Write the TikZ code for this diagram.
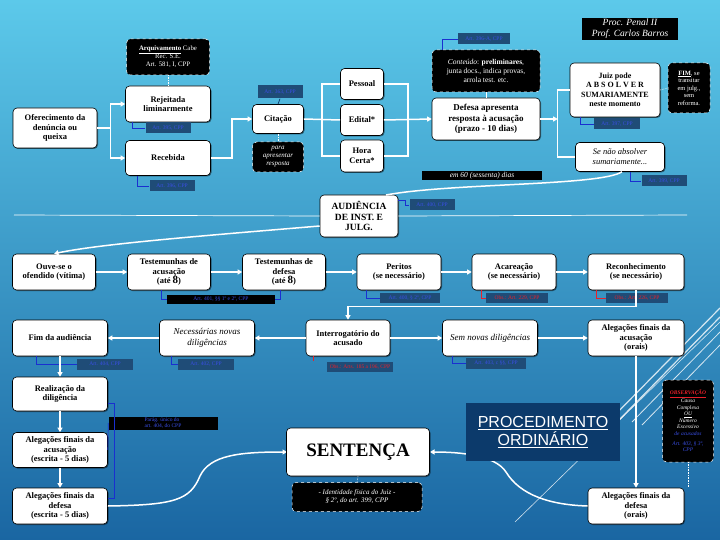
\documentclass[tikz,border=0pt]{standalone}
\usepackage{fontspec}
\setmainfont{Liberation Serif}
\setsansfont{Liberation Sans}
\usetikzlibrary{arrows.meta,shadows}
\definecolor{bgtop}{HTML}{5CC9EA}
\definecolor{bgmid}{HTML}{3399CC}
\definecolor{bgbot}{HTML}{1A66A2}
\definecolor{labbg}{HTML}{1F4C77}
\definecolor{labtx}{HTML}{3A4FE6}
\definecolor{redtx}{HTML}{E8202A}
\definecolor{navy}{HTML}{0C3A6B}
\definecolor{bluel}{HTML}{1A2FD0}
\begin{document}
\begin{tikzpicture}[x=1pt,y=-1pt,
 box/.style={draw=black, fill=white, rounded corners=4pt, line width=0.6pt, align=center, inner sep=1pt,
   font=\bfseries\fontsize{8.5}{9.5}\selectfont,
   drop shadow={shadow xshift=1pt,shadow yshift=-1pt,opacity=0.45,fill=black}},
 ibox/.style={box, font=\itshape\fontsize{9}{10.5}\selectfont},
 blk/.style={fill=black, draw=white, dashed, line width=0.5pt, rounded corners=4pt, text=white, align=center, inner sep=1pt, font=\fontsize{6.5}{7.5}\selectfont},
 lab/.style={fill=labbg, text=labtx, inner sep=1pt, font=\fontsize{5.5}{6}\selectfont, minimum height=11},
 rlab/.style={lab, text=redtx},
 wa/.style={draw=white, line width=1.5pt, -{Triangle[length=4.5pt,width=5pt]}},
 wl/.style={draw=white, line width=1.5pt},
 bl/.style={draw=bluel, line width=0.7pt},
 rl/.style={draw=redtx, line width=0.7pt},
 dl/.style={draw=white, densely dotted, line width=0.6pt},
]
\useasboundingbox (0,0) rectangle (720,540);
\shade[top color=bgtop, middle color=bgmid, bottom color=bgbot] (0,0) rectangle (720,540);

% decorative lines
\begin{scope}[white, opacity=0.8]
\draw[line width=0.6pt] (515,522) -- (720,322);
\draw[line width=1.2pt] (612,418) -- (720,308);
\draw[line width=1.2pt] (619,420) -- (720,317);
\draw[line width=0.8pt] (632,422) -- (720,332);
\draw[line width=0.8pt] (642,425) -- (720,345);
\end{scope}

% title
\node[fill=black, text=white, align=center, minimum width=96, minimum height=22, inner sep=1pt, font=\itshape\fontsize{9.5}{11}\selectfont] (title) at (630,29) {Proc. Penal II\\Prof. Carlos Barros};

% top row
\node[box, minimum width=84, minimum height=40] (ofer) at (55,128) {Oferecimento da\\denúncia ou\\queixa};
\node[box, minimum width=85, minimum height=36] (rej) at (168,104) {Rejeitada\\liminarmente};
\node[box, minimum width=85, minimum height=35] (rec) at (168,158) {Recebida};
\node[blk, minimum width=83, minimum height=36, inner sep=3pt, font=\fontsize{6.8}{8}\selectfont] (arq) at (168,57) {\textbf{\underline{Arquivamento}} Cabe\\Rec. S.E.\\Art. 581, I, CPP};
\node[box, minimum width=51, minimum height=29] (cit) at (278,119) {Citação};
\node[blk, minimum width=51, minimum height=30, font=\itshape\fontsize{7}{8}\selectfont] (para) at (278,157) {para\\apresentar\\resposta};
\node[box, minimum width=43, minimum height=31] (pes) at (362,84) {Pessoal};
\node[box, minimum width=43, minimum height=31] (edi) at (362,120) {Edital*};
\node[box, minimum width=43, minimum height=32] (hora) at (362,156) {Hora\\Certa*};
\node[box, minimum width=108, minimum height=42, font=\bfseries\fontsize{9}{10.5}\selectfont] (def) at (486,119) {Defesa apresenta\\resposta à acusação\\(prazo - 10 dias)};
\node[blk, minimum width=108, minimum height=42, font=\fontsize{7.5}{9}\selectfont] (cont) at (486,71) {\textit{Conteúdo}: \textbf{preliminares},\\junta docs., indica provas,\\arrola test. etc.};
\node[box, minimum width=90, minimum height=54, font=\bfseries\fontsize{8}{9.5}\selectfont] (juiz) at (615,90) {Juiz pode\\A B S O L V E R\\SUMARIAMENTE\\neste momento};
\node[blk, minimum width=42, minimum height=50, font=\fontsize{6.5}{7.5}\selectfont] (fim0) at (689,88) {\textbf{\underline{FIM}}, se\\transitar\\em julg.,\\sem\\reforma.};
\node[ibox, minimum width=89, minimum height=29, font=\itshape\fontsize{8.5}{10}\selectfont] (senao) at (620,157) {Se não absolver\\sumariamente...};
\node[fill=black, text=white, minimum width=120, minimum height=9, inner sep=0pt, font=\itshape\fontsize{7.5}{8}\selectfont] (em) at (482,176) {em 60 (sessenta) dias};
\node[box, minimum width=78, minimum height=42, font=\bfseries\fontsize{9.5}{10.5}\selectfont] (aud) at (359,216) {AUDIÊNCIA\\DE INST. E\\JULG.};

% row 2
\node[box, minimum width=83, minimum height=36] (ouve) at (54,272) {Ouve-se o\\ofendido (vítima)};
\node[box, minimum width=83, minimum height=36] (tac) at (169,272) {Testemunhas de\\acusação\\(até {\fontsize{11}{9}\selectfont 8})};
\node[box, minimum width=83, minimum height=36] (tde) at (284,272) {Testemunhas de\\defesa\\(até {\fontsize{11}{9}\selectfont 8})};
\node[box, minimum width=84, minimum height=36] (per) at (399,272) {Peritos\\(se necessário)};
\node[box, minimum width=84, minimum height=36] (aca) at (514,272) {Acareação\\(se necessário)};
\node[box, minimum width=96, minimum height=36] (reco) at (636,272) {Reconhecimento\\(se necessário)};

% row 3
\node[box, minimum width=95, minimum height=36] (fim) at (60,338) {Fim da audiência};
\node[ibox, minimum width=95, minimum height=36] (nec) at (207,338) {Necessárias novas\\diligências};
\node[box, minimum width=84, minimum height=36] (int) at (348,338) {Interrogatório do\\acusado};
\node[ibox, minimum width=95, minimum height=36] (sem) at (490,338) {Sem novas diligências};
\node[box, minimum width=96, minimum height=36] (alo) at (636,338) {Alegações finais da\\acusação\\(orais)};

% left column
\node[box, minimum width=95, minimum height=34] (real) at (60,394) {Realização da\\diligência};
\node[box, minimum width=95, minimum height=35] (alac) at (60,450) {Alegações finais da\\acusação\\(escrita - 5 dias)};
\node[box, minimum width=95, minimum height=36] (alde) at (60,506) {Alegações finais da\\defesa\\(escrita - 5 dias)};

% curves to sentence (drawn before the boxes)
\draw[wa] (alde.east) .. controls (175,505) and (190,500) .. (200,476) .. controls (210,455) and (240,452) .. (287,452);
\draw[wa] (588,506) .. controls (550,505) and (520,495) .. (506,472) .. controls (495,455) and (460,452) .. (430,452);

\node[box, minimum width=143, minimum height=48, font=\bfseries\fontsize{19}{20}\selectfont] (sent) at (358,452) {SENTENÇA};
\node[blk, minimum width=130, minimum height=29, font=\itshape\fontsize{7}{8}\selectfont] (ident) at (357,497) {- Identidade física do Juiz -\\§ 2º, do art. 399, CPP};
\node[fill=navy, text=white, minimum width=154, minimum height=58, align=center, inner sep=1pt, font=\sffamily\fontsize{16}{18}\selectfont] (proc) at (543,432) {\underline{PROCEDIMENTO}\\\underline{ORDINÁRIO}};
\node[box, minimum width=96, minimum height=36] (aldo) at (636,506) {Alegações finais da\\defesa\\(orais)};
\node[blk, minimum width=51, minimum height=82, font=\itshape\fontsize{5.5}{6.6}\selectfont] (obs) at (688,421) {{\color{redtx}\textbf{\underline{OBSERVAÇÃO}}}\\Causa\\Complexa\\\underline{OU}\\Número\\Excessivo\\{\color{labtx}de acusados}\\[3pt]{\color{labtx}Art. 403, § 3º,}\\{\color{labtx}CPP}};

% labels
\node[lab, minimum width=45] (Lrej) at (168,128) {Art. 395, CPP};
\node[lab, minimum width=45] (Lrec) at (172,186) {Art. 396, CPP};
\node[lab, minimum width=45, minimum height=13] (Lcit) at (280,92) {Art. 363, CPP};
\node[lab, minimum width=52] (Ldef) at (484,39) {Art. 396-A, CPP};
\node[lab, minimum width=46] (Ljuiz) at (617,124) {Art. 397, CPP};
\node[lab, minimum width=45] (Lsenao) at (664,181) {Art. 399, CPP};
\node[lab, minimum width=45] (Laud) at (432,205) {Art. 400, CPP};
\node[lab, fill=black, minimum width=108, minimum height=9] (Ltest) at (221,299) {Art. 401, §§ 1º e 2º, CPP};
\node[lab, minimum width=60, minimum height=10] (Lper) at (410,298) {Art. 400, § 2º, CPP};
\node[rlab, minimum width=62, minimum height=10] (Laca) at (517,298) {Obs.: Art. 229, CPP};
\node[rlab, minimum width=62, minimum height=10] (Lreco) at (637,298) {Obs.: Art. 226, CPP};
\node[lab, minimum width=56] (Lfim) at (105,364) {Art. 404, CPP};
\node[lab, minimum width=56] (Lnec) at (206,364) {Art. 402, CPP};
\node[rlab, minimum width=66, minimum height=10] (Lint) at (360,367) {Obs.: Arts. 185 a 196, CPP};
\node[lab, minimum width=60] (Lsem) at (496,363) {Art. 403, c §§, CPP};
\node[lab, fill=black, minimum width=109, minimum height=13, align=left, font=\fontsize{5.5}{5.5}\selectfont] (Lpar) at (163,423) {Parág. único do\\art. 404, do CPP};

% dotted links
\draw[dl] (arq.south) -- (rej.north);
\draw[dl] (cit.south) -- (para.north);
\draw[wl, line width=0.6pt] (cont.south) -- (def.north);
\draw[dl] (juiz.east) -- (fim0.west);
\draw[dl] (sent.south) -- (ident.north);
\draw[dl] (obs.south) -- (obs.south |- aldo.north);

% blue/red brackets
\draw[bl] ([xshift=7]rej.south west) |- (Lrej.west);
\draw[bl] ([xshift=12]rec.south west) |- (Lrec.west);
\draw[draw=navy, line width=0.7pt] (Lcit.south) -- (cit.north);
\draw[bl] ([xshift=11]cont.north west) |- (Ldef.west);
\draw[bl] ([xshift=11]juiz.south west) |- (Ljuiz.west);
\draw[bl] ([xshift=10]senao.south) |- (Lsenao.west);
\draw[bl] ([yshift=-6]aud.north east) -- ++(7,0) |- (Laud.west);
\draw[bl] ([xshift=-8]tac.south) |- (Ltest.west);
\draw[bl] ([xshift=-4]tde.south) |- (Ltest.east);
\draw[bl] ([xshift=10]per.south west) |- (Lper.west);
\draw[rl] ([xshift=10]aca.south west) |- (Laca.west);
\draw[rl] ([xshift=9]reco.south west) |- (Lreco.west);
\draw[bl] ([xshift=24]fim.south west) |- (Lfim.west);
\draw[bl] ([xshift=12]nec.south west) |- (Lnec.west);
\draw[rl] ([xshift=8]int.south west) -- ++(0,5);
\draw[bl] ([xshift=10]sem.south west) |- (Lsem.west);
\draw[bl] ([yshift=-9]real.east) -- ++(7,0) |- ([yshift=8]alde.east);
\draw[bl] (alac.east) -- (Lpar.west);

% flow arrows
\draw[wl] (ofer.east) -- ++(13,0) coordinate (s1);
\draw[wa] (s1) |- (rej.west);
\draw[wa] (s1) |- (rec.west);
\draw[wa] (rec.east) -- ++(21,0) |- (cit.west);
\draw[wl] (cit.east) -- (edi.west);
\draw[wl] (pes.west) -- ++(-18,0) |- (hora.west);
\draw[wl] (pes.east) -- ++(24,0) |- (hora.east);
\draw[wa] (edi.east) -- (def.west);
\draw[wl] (juiz.west) -- ++(-12,0) coordinate (s2) |- (senao.west);
\draw[wa] (def.east) -- (s2 |- def.east);
\draw[wl] ([xshift=2]senao.south) .. controls (600,186) and (450,183) .. (386,195);
\draw[white, line width=0.7pt] (14,215) -- (aud.west);
\draw[white, line width=0.7pt] (aud.east) -- (687,215);
\draw[wa] ([yshift=-10]aud.west) .. controls (200,236) and (100,244) .. (ouve.north);
\draw[wa] (ouve.east) -- (tac.west);
\draw[wa] (tac.east) -- (tde.west);
\draw[wa] (tde.east) -- (per.west);
\draw[wa] (per.east) -- (aca.west);
\draw[wa] (aca.east) -- (reco.west);
\draw[wa] (reco.south) -- ++(0,16) -| (int.north);
\draw[wa] (int.west) -- (nec.east);
\draw[wa] (nec.west) -- (fim.east);
\draw[wa] (int.east) -- (sem.west);
\draw[wa] (sem.east) -- (alo.west);
\draw[wa] (alo.south) -- (aldo.north);
\draw[wa] (fim.south) -- (real.north);
\draw[wa] (real.south) -- (alac.north);
\draw[wa] (alac.south) -- (alde.north);
\end{tikzpicture}
\end{document}
